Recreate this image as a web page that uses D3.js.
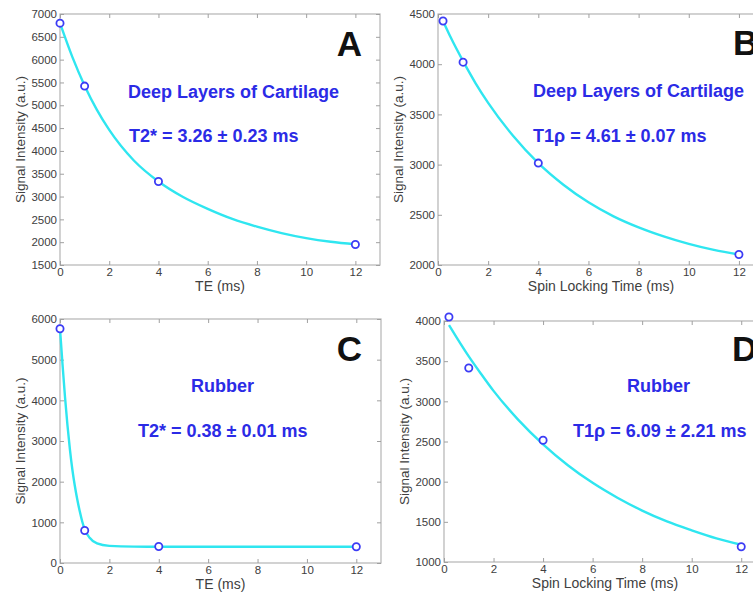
<!DOCTYPE html>
<html>
<head>
<meta charset="utf-8">
<script src="https://cdn.jsdelivr.net/npm/d3@7"></script>
<style>
  body { margin: 0; background: #fff; overflow: hidden; }
  svg { display: block; }
</style>
</head>
<body>
<svg id="drawing_region"></svg>
<script>
// measured points (echo time / spin lock time in ms, signal in a.u.)
const te_times = [0, 1, 4, 12];
const sl_times = [0.2, 1, 4, 12];

const cart_t2_signal = [6800, 5420, 3330, 1950];
const cart_t1r_signal = [4430, 4020, 3015, 2105];
const rub_t2_signal = [5760, 800, 405, 400];
const rub_t1r_signal = [4050, 3415, 2515, 1190];

// fitted curves
const cart_t2_fit_x = [0, 0.5, 1, 1.5, 2, 3, 4, 5, 6, 7, 8, 9, 10, 11, 12];
const cart_t2_fit_y = [6800, 6060, 5430, 4900, 4460, 3790, 3330, 2990, 2730, 2510, 2340, 2200, 2090, 2010, 1955];

const cart_t1r_fit_x = [0.2, 0.5, 1, 1.5, 2, 3, 4, 5, 6, 7, 8, 9, 10, 11, 12];
const cart_t1r_fit_y = [4430, 4270, 4030, 3810, 3615, 3285, 3015, 2800, 2625, 2485, 2375, 2285, 2210, 2150, 2105];

const rub_t2_fit_x = [0, 0.1, 0.2, 0.3, 0.4, 0.5, 0.6, 0.7, 0.8, 0.9, 1, 1.2, 1.5, 2, 3, 4, 8, 12];
const rub_t2_fit_y = [5760, 4900, 4100, 3400, 2800, 2300, 1900, 1560, 1270, 1020, 830, 620, 480, 420, 402, 400, 400, 400];

const rub_t1r_fit_x = [0.2, 0.5, 1, 1.5, 2, 3, 4, 5, 6, 7, 8, 9, 10, 11, 12];
const rub_t1r_fit_y = [3950, 3800, 3560, 3340, 3130, 2770, 2465, 2205, 1985, 1800, 1640, 1505, 1395, 1295, 1215];

// tick labels
const x_ticks = [0, 2, 4, 6, 8, 10, 12];
const y_ticks_a = [1500, 2000, 2500, 3000, 3500, 4000, 4500, 5000, 5500, 6000, 6500, 7000];
const y_ticks_b = [2000, 2500, 3000, 3500, 4000, 4500];
const y_ticks_c = [0, 1000, 2000, 3000, 4000, 5000, 6000];
const y_ticks_d = [1000, 1500, 2000, 2500, 3000, 3500, 4000];

const panel_letters = ["A", "B", "C", "D"];
const panel_titles = ["Deep Layers of Cartilage", "Deep Layers of Cartilage", "Rubber", "Rubber"];
const panel_results = ["T2* = 3.26 \u00b1 0.23 ms", "T1\u03c1 = 4.61 \u00b1 0.07 ms", "T2* = 0.38 \u00b1 0.01 ms", "T1\u03c1 = 6.09 \u00b1 2.21 ms"];
const x_labels = ["TE (ms)", "Spin Locking Time (ms)", "TE (ms)", "Spin Locking Time (ms)"];
const y_label = "Signal Intensity (a.u.)";

const svg = d3.select('#drawing_region')
    .attr('width', 753)
    .attr('height', 598);

class DecayPlot {

    constructor( config, data ) {
        this.config = config;
        this.data = data;
        this.init();
    }

    init() {
        let self = this;
        const c = self.config;

        self.inner_width = c.box.right - c.box.left;
        self.inner_height = c.box.bottom - c.box.top;

        self.chart = svg.append('g')
            .attr('transform', `translate(${c.box.left}, ${c.box.top})`);

        self.xscale = d3.scaleLinear()
            .domain( [0, 13] )
            .range( [0, self.inner_width] );

        self.yscale = d3.scaleLinear()
            .domain( c.ydomain )
            .range( [self.inner_height, 0] );
    }

    render() {
        let self = this;
        const c = self.config;
        const font = 'Liberation Sans, Arial, sans-serif';
        const fmt = d3.format('d');

        self.chart.append('rect')
            .attr('width', self.inner_width)
            .attr('height', self.inner_height)
            .attr('fill', 'white')
            .attr('stroke', '#b4b4b4')
            .attr('stroke-width', 1.2);

        // ticks pointing inwards on all sides, matlab style
        const axes = [
            { axis: d3.axisBottom( self.xscale ).tickValues( x_ticks ).tickFormat( fmt ), at: `translate(0,${self.inner_height})` },
            { axis: d3.axisTop( self.xscale ).tickValues( x_ticks ).tickFormat(''), at: 'translate(0,0)' },
            { axis: d3.axisLeft( self.yscale ).tickValues( c.yticks ).tickFormat( fmt ), at: 'translate(0,0)' },
            { axis: d3.axisRight( self.yscale ).tickValues( c.yticks ).tickFormat(''), at: `translate(${self.inner_width},0)` }
        ];
        axes.forEach( a => {
            a.axis.tickSizeInner(-4).tickSizeOuter(0).tickPadding(3);
            const g = self.chart.append('g')
                .attr('transform', a.at)
                .call( a.axis );
            g.select('.domain').remove();
            g.selectAll('line').attr('stroke', '#a0a0a0');
            g.selectAll('text')
                .attr('font-family', font)
                .attr('font-size', '11.5px')
                .attr('fill', '#404040');
        });

        // fitted curve
        const line = d3.line()
            .x( d => self.xscale( d[0] ) )
            .y( d => self.yscale( d[1] ) )
            .curve( d3.curveMonotoneX );

        self.chart.append('path')
            .datum( d3.zip( self.data.fit_x, self.data.fit_y ) )
            .attr('d', line)
            .attr('fill', 'none')
            .attr('stroke', '#2fe6f0')
            .attr('stroke-width', 2.4);

        // measured points
        self.chart.selectAll('circle')
            .data( d3.zip( self.data.x, self.data.y ) )
            .enter()
            .append('circle')
            .attr('cx', d => self.xscale( d[0] ) )
            .attr('cy', d => self.yscale( d[1] ) )
            .attr('r', 3.6)
            .attr('fill', 'white')
            .attr('stroke', '#3c3cf5')
            .attr('stroke-width', 1.8);

        // axis titles
        self.chart.append('text')
            .text( c.xlabel )
            .attr('x', self.inner_width / 2)
            .attr('y', self.inner_height + 26)
            .attr('text-anchor', 'middle')
            .attr('font-family', font)
            .attr('font-size', '14px')
            .attr('fill', '#404040');

        self.chart.append('text')
            .text( y_label )
            .attr('transform', `translate(-35, ${self.inner_height / 2}) rotate(-90)`)
            .attr('text-anchor', 'middle')
            .attr('font-family', font)
            .attr('font-size', '13.5px')
            .attr('fill', '#404040');

        // annotations (absolute page coords)
        svg.append('text')
            .text( c.title )
            .attr('x', c.title_pos[0])
            .attr('y', c.title_pos[1])
            .attr('font-family', font)
            .attr('font-weight', 'bold')
            .attr('font-size', '18px')
            .attr('fill', '#2b2be6');

        svg.append('text')
            .text( c.result )
            .attr('x', c.result_pos[0])
            .attr('y', c.result_pos[1])
            .attr('font-family', font)
            .attr('font-weight', 'bold')
            .attr('font-size', '18px')
            .attr('fill', '#2b2be6');

        svg.append('text')
            .text( c.letter )
            .attr('x', c.letter_pos[0])
            .attr('y', c.letter_pos[1])
            .attr('text-anchor', c.letter_anchor)
            .attr('font-family', font)
            .attr('font-weight', 'bold')
            .attr('font-size', '35px')
            .attr('fill', '#111');
    }
}

const configs = [
    { box: {left: 60, top: 14, right: 380, bottom: 265}, ydomain: [1500, 7000], yticks: y_ticks_a,
      title_pos: [128, 98], result_pos: [129, 142], letter_pos: [362, 56], letter_anchor: 'end' },
    { box: {left: 438, top: 14, right: 764, bottom: 265}, ydomain: [2000, 4500], yticks: y_ticks_b,
      title_pos: [533, 97], result_pos: [533, 142], letter_pos: [733, 55], letter_anchor: 'start' },
    { box: {left: 60, top: 319, right: 381, bottom: 563}, ydomain: [0, 6000], yticks: y_ticks_c,
      title_pos: [191, 392], result_pos: [138, 437], letter_pos: [362, 361], letter_anchor: 'end' },
    { box: {left: 444, top: 321, right: 766, bottom: 562}, ydomain: [1000, 4000], yticks: y_ticks_d,
      title_pos: [627, 392], result_pos: [573, 437], letter_pos: [732, 361], letter_anchor: 'start' }
];

const datasets = [
    { x: te_times, y: cart_t2_signal, fit_x: cart_t2_fit_x, fit_y: cart_t2_fit_y },
    { x: sl_times, y: cart_t1r_signal, fit_x: cart_t1r_fit_x, fit_y: cart_t1r_fit_y },
    { x: te_times, y: rub_t2_signal, fit_x: rub_t2_fit_x, fit_y: rub_t2_fit_y },
    { x: sl_times, y: rub_t1r_signal, fit_x: rub_t1r_fit_x, fit_y: rub_t1r_fit_y }
];

configs.forEach( (cfg, i) => {
    cfg.letter = panel_letters[i];
    cfg.title = panel_titles[i];
    cfg.result = panel_results[i];
    cfg.xlabel = x_labels[i];
    const plot = new DecayPlot( cfg, datasets[i] );
    plot.render();
});
</script>
</body>
</html>
